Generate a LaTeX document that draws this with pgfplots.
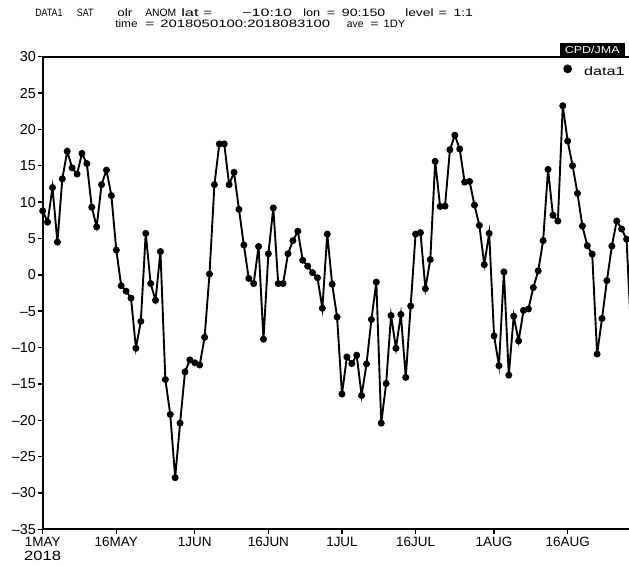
\documentclass[border=0pt]{standalone}
\usepackage{fontspec}
\setmainfont{Liberation Sans}
\newfontfamily\cpdfont[FakeStretch=1.25]{Liberation Sans}
\newfontfamily\legfont[FakeStretch=1.35]{Liberation Sans}
\usepackage{graphicx}
\usepackage{pgfplots}
\pgfplotsset{compat=1.18}
\newlength\px \setlength\px{0.75pt}
\newcommand\tk[4]{\node[anchor=base west, inner sep=0pt, font=\fontsize{8}{9}\selectfont] at ({#1-42.7},{529.3-#2}) {\resizebox{#3\px}{\height}{#4}};}
\begin{document}
\begin{tikzpicture}[x=\px,y=\px]
\begin{axis}[
  name=ax,
  scale only axis,
  width=586.3\px, height=472.6\px,
  xmin=0, xmax=119.5, ymin=-35, ymax=30,
  enlargelimits=false,
  axis lines=left,
  axis line style={-, line width=1.8\px, black},
  tick align=outside,
  major tick length=5\px,
  tick style={line width=1.4\px, black},
  xtick={0,15,31,46,61,76,92,107},
  xticklabels={{1MAY\\\resizebox{37\px}{\height}{2018}},16MAY,1JUN,16JUN,1JUL,16JUL,1AUG,16AUG},
  xticklabel style={align=center, yshift=2\px, font=\fontsize{10.1}{11}\selectfont},
  ytick={-35,-30,...,30},
  yticklabels={--35,--30,--25,--20,--15,--10,--5,0,5,10,15,20,25,30},
  yticklabel style={xshift=3\px, font=\fontsize{10.8}{12}\selectfont},
  legend style={at={(rel axis cs:0.888,0.9697)}, anchor=west, draw=none, fill=none,
    inner sep=0pt, outer sep=0pt, column sep=12\px, nodes={inner sep=0pt},
    font=\legfont\fontsize{9}{10}\selectfont},
  legend image code/.code={\fill[black] (3.3\px,3.3\px) circle (3.4\px);},
]
\addplot[black, line width=1.9\px, mark=*, mark size=2.5\px, mark options={fill=black}] coordinates {
(0,8.8) (1,7.25) (2,12.0) (3,4.5) (4,13.2) (5,17.0) (6,14.7) (7,13.85) (8,16.7) (9,15.3)
(10,9.3) (11,6.6) (12,12.4) (13,14.4) (14,10.9) (15,3.4) (16,-1.5) (17,-2.25) (18,-3.2) (19,-10.1)
(20,-6.4) (21,5.7) (22,-1.2) (23,-3.5) (24,3.2) (25,-14.4) (26,-19.2) (27,-27.9) (28,-20.4) (29,-13.35)
(30,-11.7) (31,-12.1) (32,-12.4) (33,-8.6) (34,0.1) (35,12.4) (36,18.0) (37,18.0) (38,12.4) (39,14.1)
(40,9.0) (41,4.1) (42,-0.5) (43,-1.2) (44,3.9) (45,-8.85) (46,2.9) (47,9.2) (48,-1.2) (49,-1.2)
(50,2.9) (51,4.7) (52,6.0) (53,2.0) (54,1.2) (55,0.3) (56,-0.4) (57,-4.6) (58,5.6) (59,-1.3)
(60,-5.8) (61,-16.4) (62,-11.3) (63,-12.2) (64,-11.05) (65,-16.6) (66,-12.25) (67,-6.15) (68,-1.0) (69,-20.4)
(70,-14.95) (71,-5.6) (72,-10.1) (73,-5.45) (74,-14.1) (75,-4.3) (76,5.6) (77,5.8) (78,-1.9) (79,2.1)
(80,15.6) (81,9.4) (82,9.45) (83,17.2) (84,19.2) (85,17.3) (86,12.75) (87,12.85) (88,9.6) (89,6.8)
(90,1.4) (91,5.7) (92,-8.4) (93,-12.5) (94,0.4) (95,-13.8) (96,-5.7) (97,-9.1) (98,-4.9) (99,-4.7)
(100,-1.75) (101,0.55) (102,4.7) (103,14.5) (104,8.2) (105,7.4) (106,23.25) (107,18.4) (108,15.0) (109,11.2)
(110,6.7) (111,4.0) (112,2.85) (113,-10.9) (114,-6.0) (115,-0.8) (116,3.95) (117,7.4) (118,6.3) (119,4.9)
(120,-9.0)
};
\addlegendentry{data1}
\end{axis}
\draw[line width=1.8\px, black] (ax.north west) -- (ax.north east);
\node[fill=black, text=white, anchor=south east, minimum width=65\px, minimum height=13.5\px,
  inner sep=0pt, font=\cpdfont\fontsize{7.5}{8}\selectfont] at (582.3,472.6) {CPD/JMA};
% title line 1
\tk{35}{17}{27.3}{DATA1}
\tk{76.7}{17}{16.6}{SAT}
\tk{117}{17}{15}{olr}
\tk{145}{17}{31}{ANOM}
\tk{181}{17}{17.3}{lat}
\tk{203.3}{17}{8.4}{=}
\tk{242}{17}{49.7}{−10:10}
\tk{303}{17}{17}{lon}
\tk{326.7}{17}{8.3}{=}
\tk{341.7}{17}{43.3}{90:150}
\tk{405}{17}{28.3}{level}
\tk{438.3}{17}{8.4}{=}
\tk{453.3}{17}{19.4}{1:1}
% title line 2
\tk{115}{28}{22.3}{time}
\tk{145}{28}{9}{=}
\tk{160}{28}{170}{2018050100:2018083100}
\tk{346.7}{28}{16.6}{ave}
\tk{370}{28}{8.3}{=}
\tk{383.3}{28}{21.7}{1DY}
\pgfresetboundingbox
\useasboundingbox (-42.7,-36.7) rectangle (586.3,529.3);
\end{tikzpicture}
\end{document}
